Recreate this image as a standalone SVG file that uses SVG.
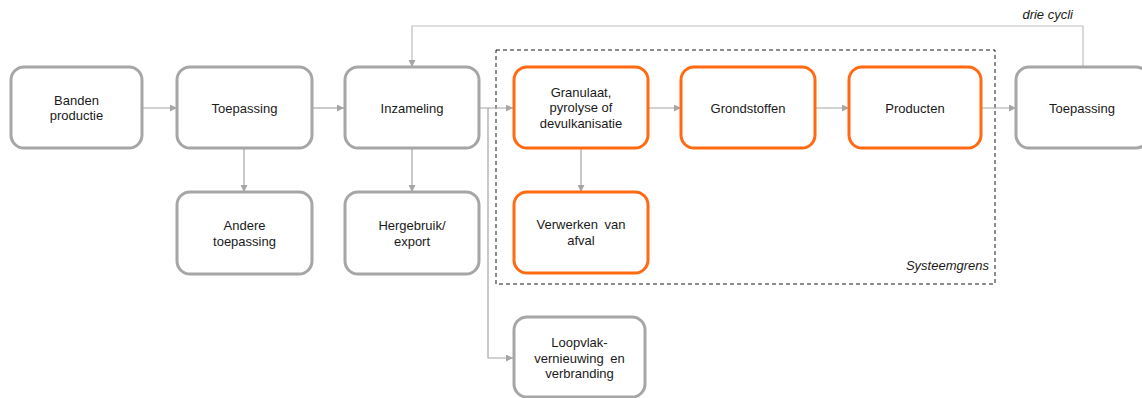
<svg xmlns="http://www.w3.org/2000/svg" width="1142" height="398" viewBox="0 0 1142 398">
  <style>
    .box { fill: #ffffff; stroke-width: 3; }
    .grey { stroke: #A6A6A6; }
    .orange { stroke: #FF6A13; }
    .lbl { font-family: "Liberation Sans", Arial, sans-serif; font-size: 13px; fill: #1a1a1a; text-anchor: middle; }
    .note { font-family: "Liberation Sans", Arial, sans-serif; font-size: 13px; font-style: italic; fill: #1a1a1a; }
    .conn { fill: none; stroke: #A6A6A6; stroke-width: 1.2; }
    .loop { fill: none; stroke: #BFBFBF; stroke-width: 1.2; }
  </style>
  <defs>
    <marker id="arrow" viewBox="0 0 10 10" refX="10" refY="5" markerWidth="9" markerHeight="7" markerUnits="userSpaceOnUse" orient="auto">
      <path d="M0,0 L10,5 L0,10 Z" fill="#A6A6A6"/>
    </marker>
  </defs>
  <rect width="1142" height="398" fill="#ffffff"/>

  <!-- system boundary -->
  <g id="systeemgrens">
    <rect x="496" y="50" width="499" height="234" fill="none" stroke="#1a1a1a" stroke-width="1" stroke-dasharray="4 3"/>
    <text class="note" x="989" y="270" text-anchor="end">Systeemgrens</text>
  </g>

  <!-- connectors -->
  <g id="connectors">
    <line class="conn" x1="142" y1="108" x2="177" y2="108" marker-end="url(#arrow)"/>
    <line class="conn" x1="312" y1="108" x2="344" y2="108" marker-end="url(#arrow)"/>
    <line class="conn" x1="479" y1="108" x2="513" y2="108" marker-end="url(#arrow)"/>
    <polyline class="conn" points="488,108 488,358 513,358" marker-end="url(#arrow)"/>
    <line class="conn" x1="648" y1="108" x2="681" y2="108" marker-end="url(#arrow)"/>
    <line class="conn" x1="815" y1="108" x2="849" y2="108" marker-end="url(#arrow)"/>
    <line class="conn" x1="981" y1="108" x2="1016" y2="108" marker-end="url(#arrow)"/>
    <line class="conn" x1="244" y1="148" x2="244" y2="192" marker-end="url(#arrow)"/>
    <line class="conn" x1="412" y1="148" x2="412" y2="192" marker-end="url(#arrow)"/>
    <line class="conn" x1="581" y1="148" x2="581" y2="192" marker-end="url(#arrow)"/>
    <polyline class="loop" points="1083,67 1083,26 412,26 412,67" marker-end="url(#arrow)"/>
    <text class="note" x="1073" y="19" text-anchor="end">drie cycli</text>
  </g>

  <g id="banden-productie">
    <rect class="box grey" x="11" y="67" width="131" height="81" rx="13"/>
    <text class="lbl" x="76.5" y="105">Banden</text>
    <text class="lbl" x="76.5" y="120">productie</text>
  </g>
  <g id="toepassing-1">
    <rect class="box grey" x="177" y="67" width="135" height="81" rx="13"/>
    <text class="lbl" x="244.5" y="112.5">Toepassing</text>
  </g>
  <g id="inzameling">
    <rect class="box grey" x="345" y="67" width="134" height="81" rx="13"/>
    <text class="lbl" x="412" y="112.5">Inzameling</text>
  </g>
  <g id="granulaat">
    <rect class="box orange" x="514" y="67" width="134" height="81" rx="13"/>
    <text class="lbl" x="581" y="97">Granulaat,</text>
    <text class="lbl" x="581" y="112">pyrolyse of</text>
    <text class="lbl" x="581" y="127.5">devulkanisatie</text>
  </g>
  <g id="grondstoffen">
    <rect class="box orange" x="681" y="67" width="134" height="81" rx="13"/>
    <text class="lbl" x="748" y="112.5">Grondstoffen</text>
  </g>
  <g id="producten">
    <rect class="box orange" x="849" y="67" width="132" height="81" rx="13"/>
    <text class="lbl" x="915" y="112.5">Producten</text>
  </g>
  <g id="toepassing-2">
    <rect class="box grey" x="1016" y="67" width="133" height="81" rx="13"/>
    <text class="lbl" x="1082" y="112.5">Toepassing</text>
  </g>
  <g id="andere-toepassing">
    <rect class="box grey" x="177" y="192" width="135" height="82" rx="13"/>
    <text class="lbl" x="244.5" y="230">Andere</text>
    <text class="lbl" x="244.5" y="245.5">toepassing</text>
  </g>
  <g id="hergebruik-export">
    <rect class="box grey" x="345" y="192" width="134" height="82" rx="13"/>
    <text class="lbl" x="412" y="230">Hergebruik/</text>
    <text class="lbl" x="412" y="245.5">export</text>
  </g>
  <g id="verwerken-afval">
    <rect class="box orange" x="514" y="192" width="134" height="81" rx="13"/>
    <text class="lbl" x="581" y="229" word-spacing="3">Verwerken van</text>
    <text class="lbl" x="581" y="244.5">afval</text>
  </g>
  <g id="loopvlak">
    <rect class="box grey" x="514" y="317" width="131" height="80" rx="13"/>
    <text class="lbl" x="579.5" y="347">Loopvlak-</text>
    <text class="lbl" x="579.5" y="362.5" word-spacing="3">vernieuwing en</text>
    <text class="lbl" x="579.5" y="377.5">verbranding</text>
  </g>
</svg>
